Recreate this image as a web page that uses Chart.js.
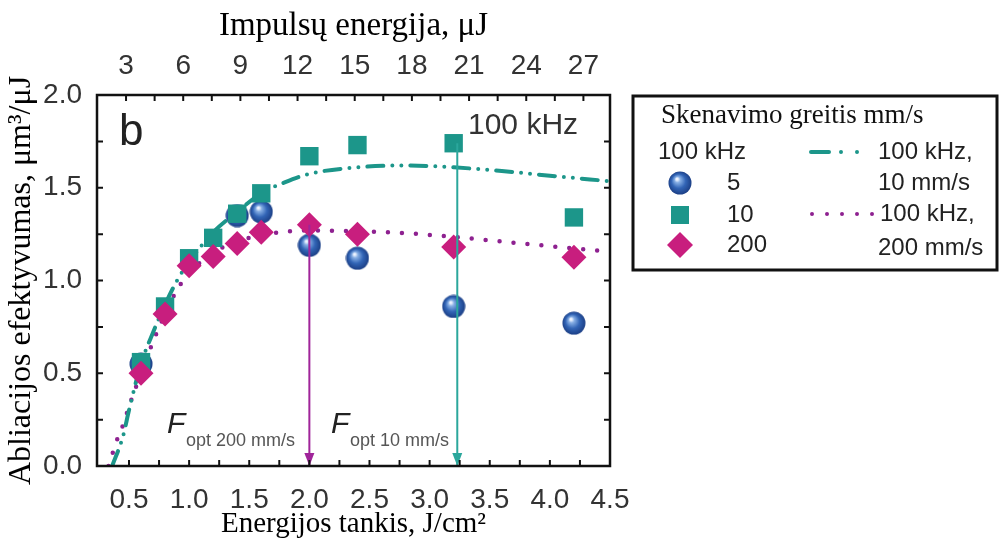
<!DOCTYPE html>
<html>
<head>
<meta charset="utf-8">
<script src="https://cdn.jsdelivr.net/npm/chart.js@4/dist/chart.umd.min.js"></script>
<style>
  body { margin: 0; background: #fff; }
  canvas { display: block; }
</style>
</head>
<body>
<canvas id="myChart" width="1001" height="543"></canvas>
<script>
// measured points, J/cm2 -> um3/uJ
const fluence = [0.6, 0.8, 1.0, 1.2, 1.4, 1.6, 2.0, 2.4, 3.2, 4.2];
const eff5 = [0.55, null, null, null, 1.35, 1.37, 1.19, 1.12, 0.86, 0.77];
const eff10 = [0.56, 0.86, 1.12, 1.23, 1.36, 1.47, 1.67, 1.73, 1.74, 1.34];
const eff200 = [0.5, 0.82, 1.08, 1.13, 1.2, 1.26, 1.3, 1.25, 1.18, 1.125];

// fitted curves
const fitF10 = [0.36, 0.45, 0.5, 0.6, 0.7, 0.8, 0.9, 1.0, 1.2, 1.4, 1.6, 1.8, 2.0, 2.4, 2.8, 3.2, 3.6, 4.0, 4.5];
const fit10 = [0, 0.16, 0.3, 0.55, 0.72, 0.87, 1.0, 1.1, 1.26, 1.37, 1.47, 1.53, 1.575, 1.61, 1.62, 1.61, 1.59, 1.565, 1.535];
const fitF200 = [0.33, 0.4, 0.45, 0.5, 0.6, 0.7, 0.8, 0.9, 1.0, 1.2, 1.4, 1.6, 2.0, 2.4, 2.8, 3.2, 3.6, 4.0, 4.5];
const fit200 = [0, 0.14, 0.22, 0.32, 0.5, 0.67, 0.82, 0.95, 1.04, 1.15, 1.21, 1.245, 1.27, 1.265, 1.255, 1.235, 1.21, 1.185, 1.155];

// optimum fluence markers
const optF = [2.0, 3.23];
const optTop = [1.3, 1.74];

// axes
const xMin = 0.234;
const xMax = 4.5;
const energyPerFluence = 6.31; // uJ per J/cm2
const xTicks = [0.5, 1.0, 1.5, 2.0, 2.5, 3.0, 3.5, 4.0, 4.5];
const yTicks = [0.0, 0.5, 1.0, 1.5, 2.0];
const topTicks = [3, 6, 9, 12, 15, 18, 21, 24, 27];

const TEAL = "#1c968a";
const MAGENTA = "#c81e7e";
const PURPLE = "#8e2190";
const SANS = "'Liberation Sans', Arial, sans-serif";
const SERIF = "'Liberation Serif', 'Times New Roman', serif";

const pts = (xs, ys) => xs.map((x, i) => ({ x: x, y: ys[i] }));

// shaded blue ball
const ball = document.createElement("canvas");
ball.width = 24;
ball.height = 24;
(() => {
  const b = ball.getContext("2d");
  const g = b.createRadialGradient(9, 8, 1, 12, 12, 12);
  g.addColorStop(0, "#eef4ff");
  g.addColorStop(0.18, "#86aee4");
  g.addColorStop(0.55, "#3265b6");
  g.addColorStop(1, "#1a3c82");
  b.fillStyle = g;
  b.beginPath();
  b.arc(12, 12, 11.5, 0, Math.PI * 2);
  b.fill();
})();

const minors = (ticks) => ticks.slice(0, -1).map((t, i) => (t + ticks[i + 1]) / 2);

const decorations = {
  id: "decorations",
  afterDatasetsDraw(chart) {
    const { ctx, chartArea: a, scales } = chart;
    ctx.save();

    // arrow heads
    chart.data.datasets.forEach((ds, i) => {
      if (!ds.arrow) return;
      const p = chart.getDatasetMeta(i).data[1];
      ctx.fillStyle = ds.borderColor;
      ctx.beginPath();
      ctx.moveTo(p.x, p.y);
      ctx.lineTo(p.x - 5, p.y - 13);
      ctx.lineTo(p.x + 5, p.y - 13);
      ctx.closePath();
      ctx.fill();
    });

    // frame
    ctx.strokeStyle = "#111";
    ctx.lineWidth = 2.5;
    ctx.strokeRect(a.left, a.top, a.right - a.left, a.bottom - a.top);

    // inward ticks
    ctx.lineWidth = 2;
    const tl = 6;
    xTicks.concat(minors(xTicks)).forEach((v) => {
      const px = scales.x.getPixelForValue(v);
      ctx.beginPath();
      ctx.moveTo(px, a.bottom);
      ctx.lineTo(px, a.bottom - tl);
      ctx.stroke();
    });
    topTicks.concat(minors(topTicks)).forEach((v) => {
      const px = scales.x2.getPixelForValue(v);
      ctx.beginPath();
      ctx.moveTo(px, a.top);
      ctx.lineTo(px, a.top + tl);
      ctx.stroke();
    });
    yTicks.concat(minors(yTicks)).forEach((v) => {
      const py = scales.y.getPixelForValue(v);
      ctx.beginPath();
      ctx.moveTo(a.left, py);
      ctx.lineTo(a.left + tl, py);
      ctx.moveTo(a.right, py);
      ctx.lineTo(a.right - tl, py);
      ctx.stroke();
    });

    // panel labels
    ctx.fillStyle = "#222";
    ctx.textBaseline = "alphabetic";
    ctx.font = "44px " + SANS;
    ctx.fillText("b", 119, 145);
    ctx.fillStyle = "#333";
    ctx.font = "30px " + SANS;
    ctx.fillText("100 kHz", 468, 134);

    const fopt = (x, sub) => {
      ctx.fillStyle = "#222";
      ctx.font = "italic 30px " + SANS;
      ctx.fillText("F", x, 433);
      ctx.fillStyle = "#555";
      ctx.font = "18px " + SANS;
      ctx.fillText(sub, x + 19, 446);
    };
    fopt(167, "opt 200 mm/s");
    fopt(331, "opt 10 mm/s");

    // legend box
    ctx.strokeStyle = "#111";
    ctx.lineWidth = 3;
    ctx.strokeRect(633, 96, 364, 174);
    ctx.fillStyle = "#111";
    ctx.font = "27px " + SERIF;
    ctx.fillText("Skenavimo greitis mm/s", 661, 123);

    ctx.fillStyle = "#222";
    ctx.font = "24px " + SANS;
    ctx.textBaseline = "middle";
    ctx.fillText("100 kHz", 658, 152);
    ctx.fillText("5", 727, 183);
    ctx.fillText("10", 727, 215);
    ctx.fillText("200", 727, 245);
    ctx.fillText("100 kHz,", 878, 152);
    ctx.fillText("10 mm/s", 878, 183);
    ctx.fillText("100 kHz,", 880, 214);
    ctx.fillText("200 mm/s", 878, 248);

    ctx.drawImage(ball, 668, 171);
    ctx.fillStyle = TEAL;
    ctx.fillRect(671, 206, 18, 18);
    ctx.fillStyle = MAGENTA;
    ctx.beginPath();
    ctx.moveTo(680, 232);
    ctx.lineTo(693, 245);
    ctx.lineTo(680, 258);
    ctx.lineTo(667, 245);
    ctx.closePath();
    ctx.fill();

    ctx.lineCap = "round";
    ctx.lineWidth = 4;
    ctx.strokeStyle = TEAL;
    ctx.setLineDash([18, 12, 0, 16, 0, 40]);
    ctx.beginPath();
    ctx.moveTo(811, 152);
    ctx.lineTo(866, 152);
    ctx.stroke();
    ctx.strokeStyle = PURPLE;
    ctx.setLineDash([0, 15]);
    ctx.beginPath();
    ctx.moveTo(812, 214);
    ctx.lineTo(873, 214);
    ctx.stroke();

    ctx.restore();
  },
};

const ctx = document.querySelector("#myChart").getContext("2d");

new Chart(ctx, {
  type: "scatter",
  data: {
    datasets: [
      {
        label: "Fopt 200 mm/s",
        data: [{ x: optF[0], y: optTop[0] }, { x: optF[0], y: 0 }],
        showLine: true,
        borderColor: "#a0249a",
        borderWidth: 2,
        pointRadius: 0,
        arrow: true,
        order: 0,
      },
      {
        label: "Fopt 10 mm/s",
        data: [{ x: optF[1], y: optTop[1] }, { x: optF[1], y: 0 }],
        showLine: true,
        borderColor: "#2ba79c",
        borderWidth: 2,
        pointRadius: 0,
        arrow: true,
        order: 0,
      },
      {
        label: "200",
        data: pts(fluence, eff200),
        pointStyle: "rectRot",
        pointRadius: 12.5,
        backgroundColor: MAGENTA,
        borderWidth: 0,
        order: 1,
      },
      {
        label: "10",
        data: pts(fluence, eff10),
        pointStyle: "rect",
        pointRadius: 13,
        backgroundColor: TEAL,
        borderWidth: 0,
        order: 2,
      },
      {
        label: "5",
        data: pts(fluence, eff5),
        pointStyle: ball,
        pointRadius: 12,
        order: 3,
      },
      {
        label: "100 kHz, 10 mm/s",
        data: pts(fitF10, fit10),
        showLine: true,
        cubicInterpolationMode: "monotone",
        borderColor: TEAL,
        borderWidth: 4,
        borderCapStyle: "round",
        borderDash: [16, 9, 0, 9, 0, 9],
        pointRadius: 0,
        order: 4,
      },
      {
        label: "100 kHz, 200 mm/s",
        data: pts(fitF200, fit200),
        showLine: true,
        cubicInterpolationMode: "monotone",
        borderColor: PURPLE,
        borderWidth: 4.5,
        borderCapStyle: "round",
        borderDash: [0, 14],
        pointRadius: 0,
        order: 4,
      },
    ],
  },
  options: {
    responsive: false,
    animation: false,
    devicePixelRatio: 1,
    layout: { padding: { left: 0, top: 0, right: 391, bottom: 0 } },
    plugins: {
      legend: { display: false },
      tooltip: { enabled: false },
    },
    scales: {
      x: {
        type: "linear",
        position: "bottom",
        min: xMin,
        max: xMax,
        grid: { display: false },
        border: { display: false },
        afterBuildTicks: (scale) => {
          scale.ticks = xTicks.map((v) => ({ value: v }));
        },
        afterFit: (scale) => {
          scale.height = 77;
        },
        ticks: {
          padding: 9,
          maxRotation: 0,
          autoSkip: false,
          color: "#333",
          font: { family: SANS, size: 28 },
          callback: (v) => v.toFixed(1),
        },
        title: {
          display: true,
          text: "Energijos tankis, J/cm²",
          color: "#000",
          font: { family: SERIF, size: 29 },
          padding: { top: 0, bottom: 1 },
        },
      },
      x2: {
        type: "linear",
        axis: "x",
        position: "top",
        min: xMin * energyPerFluence,
        max: xMax * energyPerFluence,
        grid: { display: false },
        border: { display: false },
        afterBuildTicks: (scale) => {
          scale.ticks = topTicks.map((v) => ({ value: v }));
        },
        afterFit: (scale) => {
          scale.height = 95;
        },
        ticks: {
          padding: 4,
          maxRotation: 0,
          autoSkip: false,
          color: "#333",
          font: { family: SANS, size: 28 },
          callback: (v) => String(v),
        },
        title: {
          display: true,
          text: "Impulsų energija, μJ",
          color: "#000",
          font: { family: SERIF, size: 33 },
          padding: { top: 7, bottom: 0 },
        },
      },
      y: {
        type: "linear",
        position: "left",
        min: 0,
        max: 2,
        grid: { display: false },
        border: { display: false },
        afterBuildTicks: (scale) => {
          scale.ticks = yTicks.map((v) => ({ value: v }));
        },
        afterFit: (scale) => {
          scale.width = 97;
        },
        ticks: {
          padding: 7,
          color: "#333",
          font: { family: SANS, size: 28 },
          callback: (v) => v.toFixed(1),
        },
        title: {
          display: true,
          text: "Abliacijos efektyvumas, μm³/μJ",
          color: "#000",
          font: { family: SERIF, size: 32 },
          padding: { top: 2, bottom: 0 },
        },
      },
    },
  },
  plugins: [decorations],
});
</script>
</body>
</html>
